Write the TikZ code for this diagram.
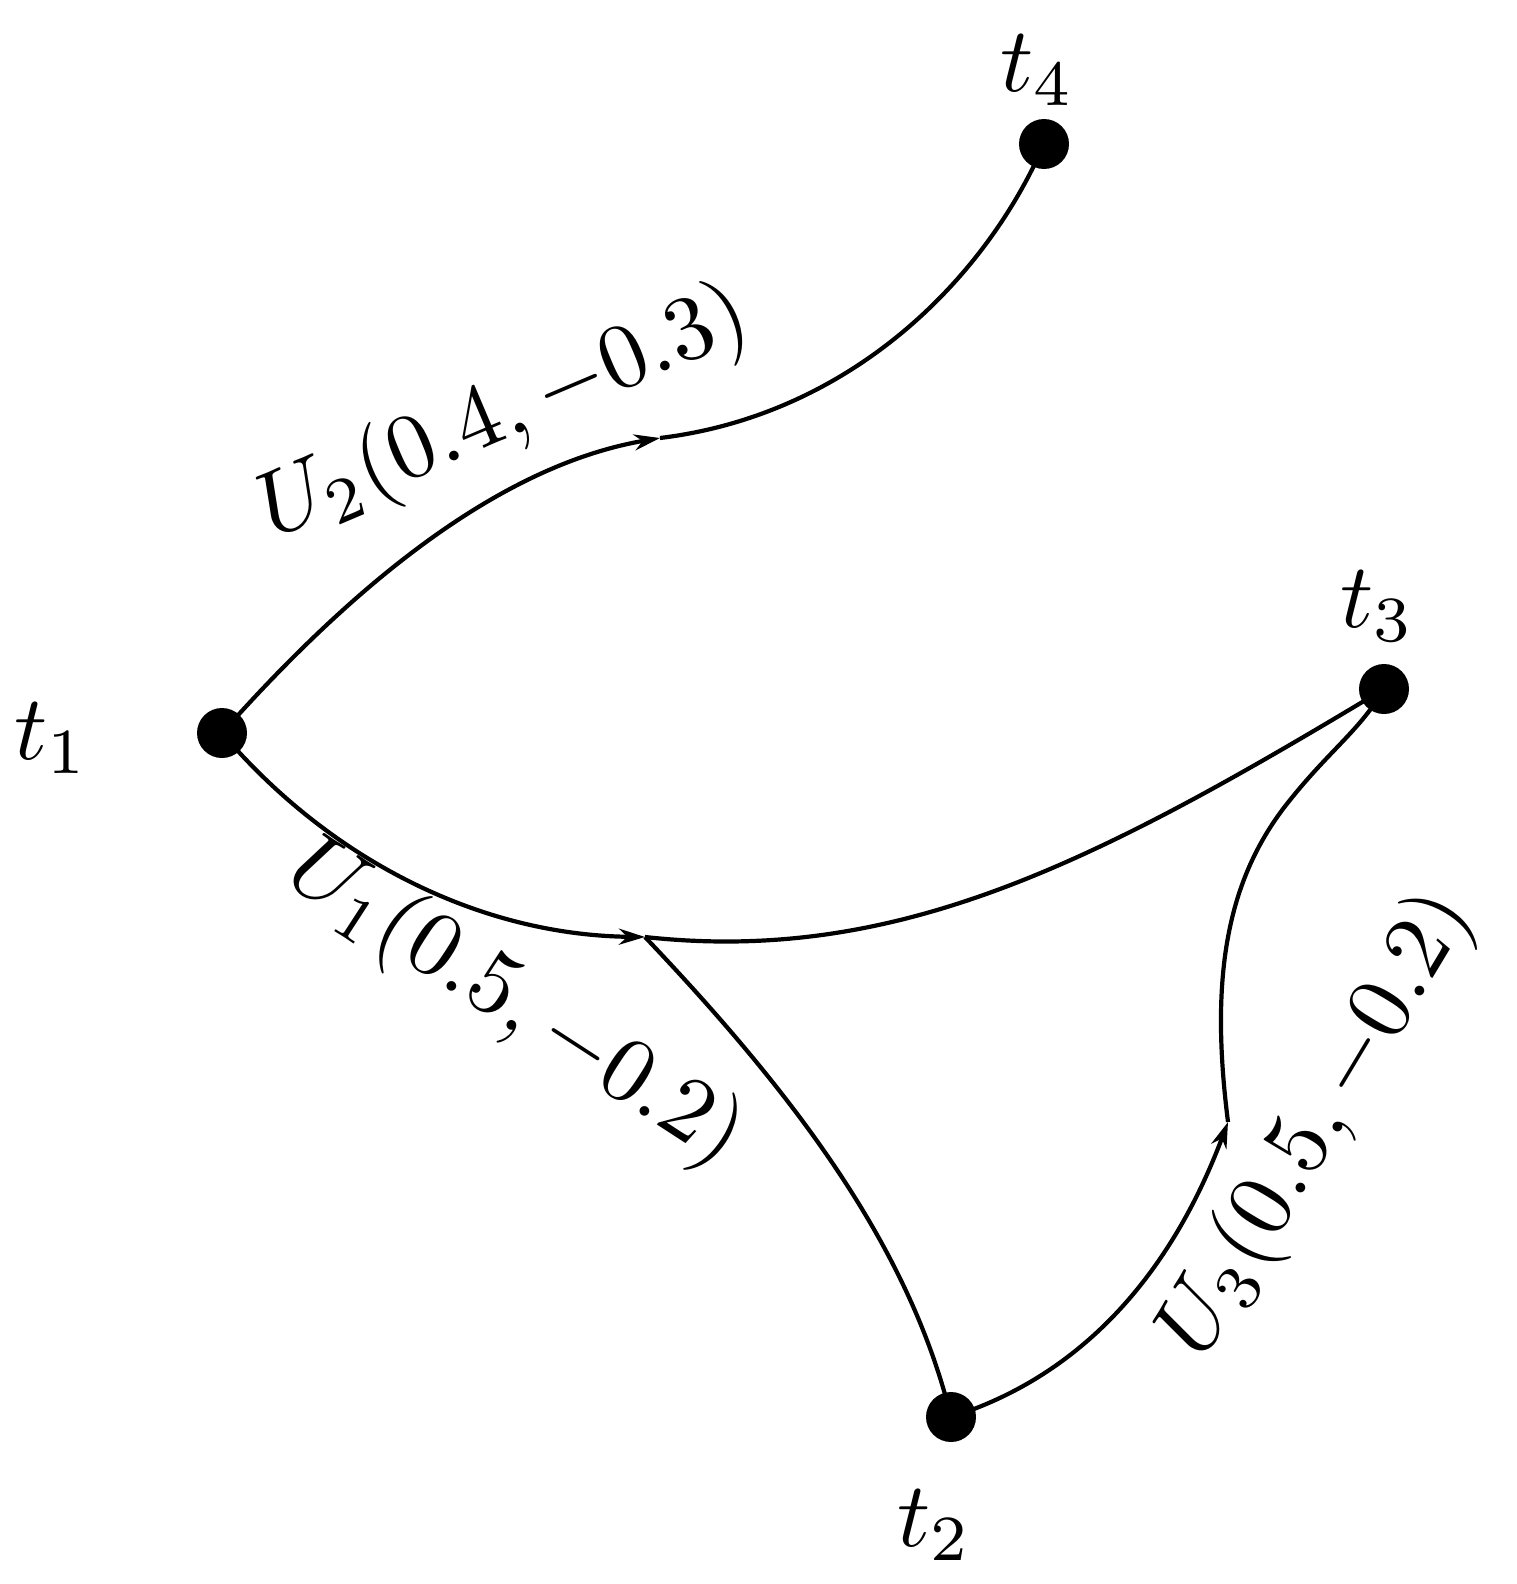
\documentclass[tikz,border=0pt]{standalone}
\usetikzlibrary{arrows.meta}
\begin{document}
\begin{tikzpicture}[x=1pt,y=-1pt,line width=4.2pt,
  dot/.style={circle,fill=black,inner sep=0pt,minimum size=50pt},
  lbl/.style={scale=9.2,inner sep=0pt},
  arr/.style={-{Stealth[length=26pt,width=16pt]}}]
\useasboundingbox (0,0) rectangle (1517,1584);
\coordinate (m2) at (660,438);
\coordinate (j) at (645,937);
\coordinate (m3) at (1228,1122);
\draw[arr] (222,733) .. controls (380,555) and (520,462) .. (m2);
\draw (m2) .. controls (850,415) and (985,280) .. (1044,144);
\draw[arr] (222,733) .. controls (330,860) and (480,935) .. (j);
\draw (j) .. controls (900,965) and (1100,860) .. (1384,689);
\draw (j) .. controls (800,1100) and (910,1250) .. (951,1417);
\draw[arr] (951,1417) .. controls (1100,1370) and (1180,1250) .. (m3);
\draw (m3) .. controls (1210,980) and (1225,880) .. (1290,800) .. controls (1330,750) and (1360,730) .. (1384,689);
\node[dot] (t1) at (222,733) {};
\node[dot] (t2) at (951,1417) {};
\node[dot] (t3) at (1384,689) {};
\node[dot] (t4) at (1044,144) {};
\node[lbl] (l1) at (52,738) {$t_1$};
\node[lbl] (l2) at (935,1525) {$t_2$};
\node[lbl] (l3) at (1378,606) {$t_3$};
\node[lbl] (l4) at (1038,70) {$t_4$};
\node[lbl,rotate=23] (u2) at (505,415) {$U_2(0.4,-0.3)$};
\node[lbl,rotate=-33] (u1) at (515,1005) {$U_1(0.5,-0.2)$};
\node[lbl,rotate=59] (u3) at (1318,1125) {$U_3(0.5,-0.2)$};
\end{tikzpicture}
\end{document}
